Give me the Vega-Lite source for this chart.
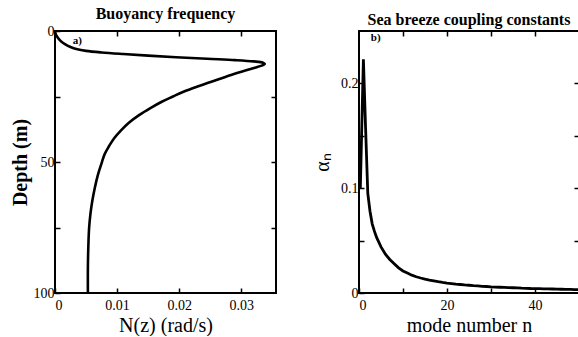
{
  "$schema": "https://vega.github.io/schema/vega-lite/v6.json",
  "padding": {"left": 9, "top": 5, "right": 0, "bottom": 0},
  "background": "white",
  "config": {
    "font": "Liberation Serif",
    "view": {"stroke": "black", "strokeWidth": 2},
    "axis": {"grid": false, "domain": false, "tickColor": "black", "tickSize": -5, "tickWidth": 1.5, "labelFont": "Liberation Serif", "labelFontSize": 14, "labelColor": "black", "titleFont": "Liberation Serif", "titleColor": "black", "titleFontWeight": "normal", "titleFontSize": 20, "labelPadding": 6},
    "axisBottom": {"labelPadding": 10},
    "title": {"font": "Liberation Serif", "fontSize": 16, "fontWeight": "bold", "color": "black", "offset": 2},
    "concat": {"spacing": 33}
  },
  "datasets": {
    "buoy": [
      {"depth": 0, "N": 0}, {"depth": 1, "N": 0.0001}, {"depth": 2, "N": 0.0003}, {"depth": 3, "N": 0.0006},
      {"depth": 4, "N": 0.001}, {"depth": 5, "N": 0.0016}, {"depth": 6, "N": 0.0024}, {"depth": 7, "N": 0.0036},
      {"depth": 7.6, "N": 0.005}, {"depth": 8.2, "N": 0.0075}, {"depth": 8.8, "N": 0.011}, {"depth": 9.4, "N": 0.015},
      {"depth": 10, "N": 0.0195}, {"depth": 10.6, "N": 0.0245}, {"depth": 11.1, "N": 0.029}, {"depth": 11.6, "N": 0.032},
      {"depth": 12.1, "N": 0.0335}, {"depth": 12.6, "N": 0.0338}, {"depth": 13.2, "N": 0.0333}, {"depth": 14, "N": 0.0322},
      {"depth": 15, "N": 0.0308}, {"depth": 16.5, "N": 0.0287}, {"depth": 18.7, "N": 0.026}, {"depth": 21, "N": 0.0232},
      {"depth": 23.2, "N": 0.0207}, {"depth": 25, "N": 0.019}, {"depth": 27, "N": 0.0172}, {"depth": 29.5, "N": 0.0153},
      {"depth": 32, "N": 0.0136}, {"depth": 35, "N": 0.0119}, {"depth": 38, "N": 0.0106}, {"depth": 41, "N": 0.0095},
      {"depth": 44, "N": 0.0087}, {"depth": 47, "N": 0.008}, {"depth": 50.5, "N": 0.0075}, {"depth": 55, "N": 0.0069},
      {"depth": 60, "N": 0.0064}, {"depth": 65, "N": 0.006}, {"depth": 70, "N": 0.0057}, {"depth": 75, "N": 0.0055},
      {"depth": 80, "N": 0.0054}, {"depth": 90, "N": 0.0053}, {"depth": 100, "N": 0.0053}
    ],
    "coupling": [
      {"n": 0.3, "a": 0.1}, {"n": 1, "a": 0.223}, {"n": 1.5, "a": 0.157}, {"n": 2, "a": 0.095}, {"n": 2.5, "a": 0.078},
      {"n": 3, "a": 0.066}, {"n": 3.5, "a": 0.059}, {"n": 4, "a": 0.053},
      {"n": 5, "a": 0.044}, {"n": 6, "a": 0.037}, {"n": 7, "a": 0.032}, {"n": 8, "a": 0.028}, {"n": 9, "a": 0.024},
      {"n": 10, "a": 0.021}, {"n": 11, "a": 0.019}, {"n": 12, "a": 0.017}, {"n": 13, "a": 0.0155}, {"n": 14, "a": 0.0143},
      {"n": 15, "a": 0.0133}, {"n": 16, "a": 0.0124}, {"n": 17, "a": 0.0116}, {"n": 18, "a": 0.0108}, {"n": 19, "a": 0.0101},
      {"n": 20, "a": 0.0095}, {"n": 21, "a": 0.009}, {"n": 22, "a": 0.0085}, {"n": 23, "a": 0.0081}, {"n": 24, "a": 0.0077},
      {"n": 25, "a": 0.0074}, {"n": 26, "a": 0.007}, {"n": 27, "a": 0.0067}, {"n": 28, "a": 0.0064}, {"n": 29, "a": 0.0062},
      {"n": 30, "a": 0.0059}, {"n": 31, "a": 0.0057}, {"n": 32, "a": 0.0055}, {"n": 33, "a": 0.0053}, {"n": 34, "a": 0.0051},
      {"n": 35, "a": 0.005}, {"n": 36, "a": 0.0048}, {"n": 37, "a": 0.0046}, {"n": 38, "a": 0.0045}, {"n": 39, "a": 0.0043},
      {"n": 40, "a": 0.0042}, {"n": 41, "a": 0.0041}, {"n": 42, "a": 0.004}, {"n": 43, "a": 0.0039}, {"n": 44, "a": 0.0038},
      {"n": 45, "a": 0.0037}, {"n": 46, "a": 0.0036}, {"n": 47, "a": 0.0035}, {"n": 48, "a": 0.0034}, {"n": 49, "a": 0.0033},
      {"n": 50, "a": 0.0032}
    ]
  },
  "hconcat": [
    {
      "width": 221,
      "height": 262,
      "title": "Buoyancy frequency",
      "layer": [
        {
          "data": {"name": "buoy"},
          "mark": {"type": "line", "color": "black", "strokeWidth": 2.6, "interpolate": "catmull-rom"},
          "encoding": {
            "x": {"field": "N", "type": "quantitative", "scale": {"domain": [0, 0.0356], "nice": false},
                  "axis": {"orient": "bottom", "values": [0, 0.01, 0.02, 0.03], "labelExpr": "datum.value == 0 ? '0' : format(datum.value, '.2f')", "title": "N(z) (rad/s)", "titlePadding": 3}},
            "y": {"field": "depth", "type": "quantitative", "scale": {"domain": [0, 100], "reverse": true, "nice": false},
                  "axis": {"orient": "left", "values": [0, 25, 50, 75, 100], "labelExpr": "datum.value % 50 == 0 ? datum.label : ''", "title": "Depth (m)", "titleFontWeight": "bold", "titlePadding": 3}},
            "order": {"field": "depth", "type": "quantitative"}
          }
        },
        {
          "data": {"values": [{"N": 0.0036, "depth": 4, "label": "a)"}]},
          "mark": {"type": "text", "fontSize": 11, "fontWeight": "bold", "color": "black", "font": "Liberation Serif"},
          "encoding": {
            "x": {"field": "N", "type": "quantitative", "axis": {"orient": "top", "values": [0.01, 0.02, 0.03], "labels": false, "title": null}},
            "y": {"field": "depth", "type": "quantitative", "axis": {"orient": "right", "values": [25, 50, 75], "labels": false, "title": null}},
            "text": {"field": "label"}
          }
        }
      ],
      "resolve": {"axis": {"x": "independent", "y": "independent"}}
    },
    {
      "width": 220,
      "height": 262,
      "title": "Sea breeze coupling constants",
      "layer": [
        {
          "data": {"name": "coupling"},
          "mark": {"type": "line", "color": "black", "strokeWidth": 2.8},
          "encoding": {
            "x": {"field": "n", "type": "quantitative", "scale": {"domain": [0, 50], "nice": false},
                  "axis": {"orient": "bottom", "values": [0, 10, 20, 30, 40, 50], "labelExpr": "datum.value % 20 == 0 ? datum.label : ''", "title": "mode number  n", "titlePadding": 3}},
            "y": {"field": "a", "type": "quantitative", "scale": {"domain": [0, 0.25], "nice": false},
                  "axis": {"orient": "left", "values": [0, 0.05, 0.1, 0.15, 0.2], "labelExpr": "datum.value == 0 ? '0' : (abs(datum.value*10 - round(datum.value*10)) < 0.001 ? format(datum.value, '.1f') : '')", "title": "α\u2099", "titlePadding": 8}}
          }
        },
        {
          "data": {"values": [{"n": 3.8, "a": 0.243, "label": "b)"}]},
          "mark": {"type": "text", "fontSize": 11, "fontWeight": "bold", "color": "black", "font": "Liberation Serif"},
          "encoding": {
            "x": {"field": "n", "type": "quantitative", "axis": {"orient": "top", "values": [10, 20, 30, 40], "labels": false, "title": null}},
            "y": {"field": "a", "type": "quantitative", "axis": {"orient": "right", "values": [0.05, 0.1, 0.15, 0.2], "labels": false, "title": null}},
            "text": {"field": "label"}
          }
        }
      ],
      "resolve": {"axis": {"x": "independent", "y": "independent"}}
    }
  ]
}
